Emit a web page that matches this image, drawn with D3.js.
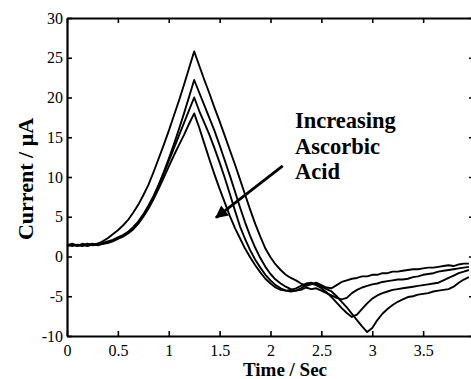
<!DOCTYPE html>
<html>
<head>
<meta charset="utf-8">
<script src="https://cdn.jsdelivr.net/npm/d3@7"></script>
<style>
  html, body { margin: 0; padding: 0; background: #fff; }
  svg { display: block; }
  text { font-family: "Liberation Serif", "Times New Roman", serif; fill: #000; }
</style>
</head>
<body>
<svg id="chart" width="471" height="379"></svg>
<script>
// Sampling times (s), shared by every trace
const time = d3.range(0, 80).map(i => +(i * 0.05).toFixed(2));

// Current traces (µA), one per ascorbic acid level (lowest level first)
const traceA = [
  1.4, 1.5, 1.3, 1.6, 1.4, 1.5, 1.6, 1.9, 2.3, 2.8,
  3.3, 3.9, 4.6, 5.5, 6.5, 7.7, 9.0, 10.6, 12.3, 14.0,
  15.8, 17.7, 19.6, 21.6, 23.7, 25.8, 24.0, 22.2, 20.5, 18.7,
  17.0, 15.2, 13.4, 11.6, 9.7, 7.8, 5.9, 4.1, 2.5, 1.0,
  -0.1, -1.0, -1.7, -2.3, -2.7, -3.0, -3.4, -3.7, -3.5, -3.3,
  -3.6, -3.9, -4.0, -3.6, -3.2, -3.0, -2.8, -2.7, -2.5, -2.5,
  -2.3, -2.3, -2.1, -2.1, -1.9, -1.9, -1.8, -1.7, -1.6, -1.6,
  -1.5, -1.4, -1.4, -1.3, -1.2, -1.1, -1.2, -1.0, -0.9, -0.9
];
const traceB = [
  1.3, 1.5, 1.4, 1.5, 1.3, 1.5, 1.6, 1.7, 1.9, 2.1,
  2.4, 2.7, 3.1, 3.7, 4.4, 5.3, 6.4, 7.6, 9.0, 10.6,
  12.3, 14.1, 16.0, 18.0, 20.1, 22.2, 20.6, 19.0, 17.4, 15.8,
  14.0, 12.1, 10.2, 8.2, 6.2, 4.3, 2.6, 1.1, -0.2, -1.3,
  -2.2, -2.9, -3.4, -3.8, -4.1, -4.3, -4.2, -3.9, -4.1, -4.0,
  -4.3, -4.6, -4.9, -5.2, -5.4, -5.2, -4.6, -4.2, -3.9, -3.7,
  -3.5, -3.4, -3.2, -3.1, -3.0, -2.9, -2.9, -2.8, -2.6, -2.5,
  -2.3, -2.2, -2.1, -1.9, -1.8, -1.7, -1.6, -1.5, -1.4, -1.3
];
const traceC = [
  1.5, 1.3, 1.5, 1.4, 1.6, 1.4, 1.5, 1.6, 1.8, 2.0,
  2.3, 2.6, 3.0, 3.6, 4.3, 5.2, 6.3, 7.5, 8.9, 10.4,
  12.0, 13.6, 15.2, 16.8, 18.4, 20.0, 18.3, 16.8, 15.3, 13.6,
  11.8, 9.9, 7.9, 5.8, 3.8, 2.2, 0.8, -0.4, -1.4, -2.3,
  -3.0, -3.6, -4.0, -4.3, -4.4, -4.3, -4.0, -3.6, -3.4, -3.6,
  -4.0, -4.5, -5.1, -5.8, -6.5, -7.1, -7.6, -7.3, -6.6, -5.9,
  -5.3, -4.9, -4.6, -4.4, -4.2, -4.1, -4.0, -3.9, -3.8, -3.7,
  -3.6, -3.5, -3.4, -3.3, -3.0, -2.7, -2.4, -2.1, -1.9, -1.7
];
const traceD = [
  1.4, 1.6, 1.4, 1.3, 1.5, 1.6, 1.4, 1.6, 1.7, 1.9,
  2.2, 2.5, 2.9, 3.4, 4.1, 5.0, 6.0, 7.2, 8.5, 9.9,
  11.3, 12.7, 14.0, 15.3, 16.7, 18.0, 16.2, 14.2, 12.2, 10.3,
  8.5, 6.8, 5.1, 3.6, 2.3, 1.0, -0.1, -1.1, -2.0, -2.8,
  -3.4, -3.9, -4.2, -4.3, -4.2, -4.0, -3.7, -3.4, -3.3, -3.5,
  -3.8, -4.1, -4.4, -5.0, -5.7, -6.4, -7.2, -8.0, -8.8, -9.5,
  -9.0, -8.0, -7.2, -6.6, -6.1, -5.7, -5.4, -5.1, -5.0, -4.8,
  -4.7, -4.6, -4.4, -4.3, -4.2, -4.1, -3.8, -3.3, -2.9, -2.6
];
const traces = [traceA, traceB, traceC, traceD];

// Axis ticks
const xTicks = [0, 0.5, 1, 1.5, 2, 2.5, 3, 3.5];
const xTickLabels = ["0", "0.5", "1", "1.5", "2", "2.5", "3", "3.5"];
const yTicks = [-10, -5, 0, 5, 10, 15, 20, 25, 30];
const yTickLabels = ["-10", "-5", "0", "5", "10", "15", "20", "25", "30"];

// Annotation
const noteLines = ["Increasing", "Ascorbic", "Acid"];

const svg = d3.select("#chart");
const plotLeft = 67, plotRight = 474, plotTop = 18, plotBottom = 336;

const x = d3.scaleLinear().domain([0, 4]).range([plotLeft, plotRight]);
const y = d3.scaleLinear().domain([-10, 30]).range([plotBottom, plotTop]);

// Traces
const line = d3.line()
  .x((d, i) => x(time[i]))
  .y(d => y(d));

svg.append("g")
  .selectAll("path")
  .data(traces)
  .join("path")
  .attr("d", line)
  .attr("fill", "none")
  .attr("stroke", "#000")
  .attr("stroke-width", 1.9)
  .attr("stroke-linejoin", "round");

// Frame axes with inward ticks
const tickLen = 5;
const fmtX = (d, i) => xTickLabels[i];
const fmtY = (d, i) => yTickLabels[i];

const gx = svg.append("g").attr("transform", `translate(0,${plotBottom})`)
  .call(d3.axisBottom(x).tickValues(xTicks).tickFormat(fmtX).tickSizeInner(-tickLen).tickSizeOuter(0).tickPadding(9));
const gxTop = svg.append("g").attr("transform", `translate(0,${plotTop})`)
  .call(d3.axisTop(x).tickValues(xTicks).tickFormat("").tickSizeInner(-tickLen).tickSizeOuter(0));
const gy = svg.append("g").attr("transform", `translate(${plotLeft},0)`)
  .call(d3.axisLeft(y).tickValues(yTicks).tickFormat(fmtY).tickSizeInner(-tickLen).tickSizeOuter(0).tickPadding(4));
const gyRight = svg.append("g").attr("transform", `translate(${plotRight},0)`)
  .call(d3.axisRight(y).tickValues(yTicks).tickFormat("").tickSizeInner(-tickLen).tickSizeOuter(0));

[gx, gxTop, gy, gyRight].forEach(g => {
  g.attr("font-family", null);
  g.select(".domain").attr("stroke", "#000").attr("stroke-width", 2.2);
  g.selectAll(".tick line").attr("stroke", "#000").attr("stroke-width", 1.6);
  g.selectAll(".tick text")
    .style("font-family", "'Liberation Serif', serif")
    .style("font-size", "16px")
    .attr("fill", "#000");
});
gx.selectAll(".tick text").attr("dy", "0.68em");

// Axis titles
svg.append("text")
  .attr("x", 285)
  .attr("y", 376)
  .attr("text-anchor", "middle")
  .style("font-size", "19px")
  .style("font-weight", "bold")
  .text("Time / Sec");

svg.append("text")
  .attr("transform", `translate(33,${(plotTop + plotBottom) / 2 + 2}) rotate(-90)`)
  .attr("text-anchor", "middle")
  .style("font-size", "22px")
  .style("font-weight", "bold")
  .text("Current / μA");

// Annotation text and arrow
const note = svg.append("text")
  .attr("x", x(2.24))
  .attr("y", 128)
  .style("font-size", "22.5px")
  .style("font-weight", "bold");
note.selectAll("tspan")
  .data(noteLines)
  .join("tspan")
  .attr("x", x(2.24))
  .attr("dy", (d, i) => i === 0 ? 0 : 25.5)
  .text(d => d);

svg.append("defs").append("marker")
  .attr("id", "head")
  .attr("viewBox", "0 0 10 10")
  .attr("refX", 9).attr("refY", 5)
  .attr("markerWidth", 5).attr("markerHeight", 4.5)
  .attr("markerUnits", "strokeWidth")
  .attr("orient", "auto")
  .append("path")
  .attr("d", "M0,0 L10,5 L0,10 Z")
  .attr("fill", "#000");

svg.append("line")
  .attr("x1", x(2.12)).attr("y1", y(11.4))
  .attr("x2", x(1.465)).attr("y2", y(4.9))
  .attr("stroke", "#000")
  .attr("stroke-width", 2.8)
  .attr("marker-end", "url(#head)");
</script>
</body>
</html>
